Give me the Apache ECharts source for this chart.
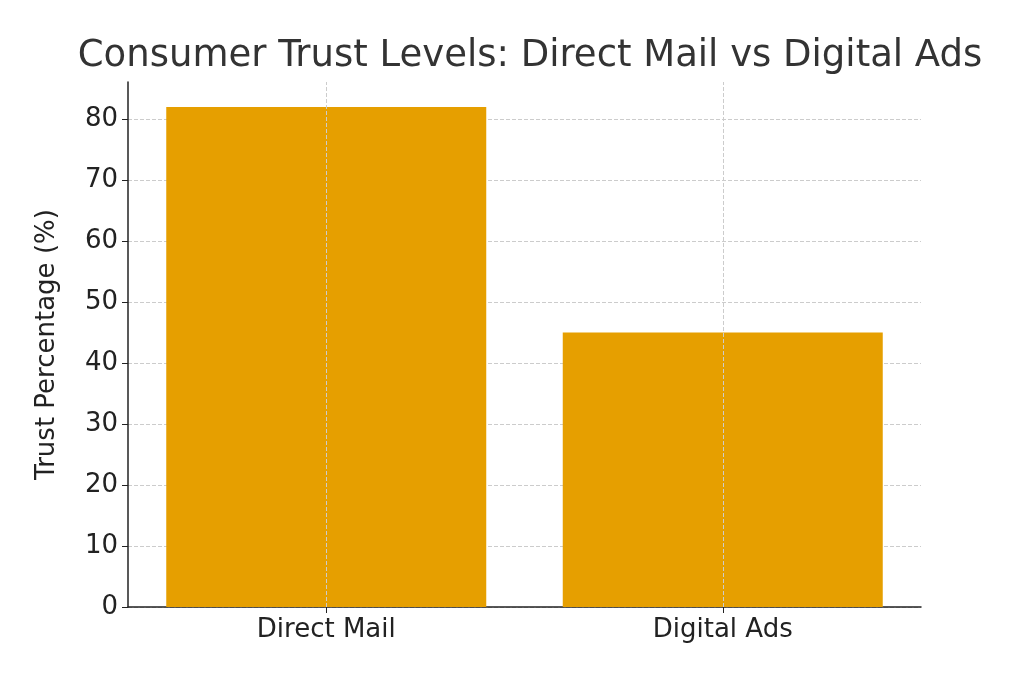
<!DOCTYPE html>
<html><head><meta charset="utf-8">
<script src="https://cdn.jsdelivr.net/npm/echarts@6/dist/echarts.min.js"></script>
<style>html,body{margin:0;padding:0;background:#fff}#c{width:1024px;height:683px}</style>
</head><body><div id="c"></div>
<script>
const categories = ['Direct Mail', 'Digital Ads'];
const trustValues = [82, 45];
const chart = echarts.init(document.getElementById('c'));
const font = 'DejaVu Sans';
chart.setOption({
  animation: false,
  backgroundColor: '#fff',
  title: { text: 'Consumer Trust Levels: Direct Mail vs Digital Ads', left: 525, top: 33, textAlign: 'center',
    textStyle: { fontFamily: font, fontSize: 37, fontWeight: 'normal', color: '#333' } },
  grid: { left: 128, right: 103, top: 82, bottom: 76 },
  xAxis: { type: 'category', data: categories,
    axisLine: { lineStyle: { color: '#222', width: 1.5 } },
    axisTick: { show: true, alignWithLabel: true, length: 6, lineStyle: { color: '#222' } },
    axisLabel: { fontFamily: font, fontSize: 26, color: '#222', margin: 10 },
    splitLine: { show: false } },
  yAxis: { type: 'value', min: 0, max: 86.1, interval: 10,
    name: 'Trust Percentage (%)', nameLocation: 'middle', nameGap: 68,
    nameTextStyle: { fontFamily: font, fontSize: 26, color: '#222' },
    axisLine: { show: true, lineStyle: { color: '#222', width: 1.5 } },
    axisTick: { show: true, length: 6, lineStyle: { color: '#222' } },
    axisLabel: { fontFamily: font, fontSize: 26, color: '#222', showMaxLabel: false, margin: 10 },
    splitLine: { show: true, showMaxLine: false, lineStyle: { color: '#ccc', type: 'dashed' } } },
  series: [{ type: 'bar', data: trustValues, barWidth: 320, z: 2,
    itemStyle: { color: '#E69F00' },
    markLine: { silent: true, symbol: 'none', label: { show: false }, z: 3,
      lineStyle: { color: '#ccc', type: 'dashed', width: 1 },
      data: categories.map(c => ({ xAxis: c })) } }]
});
</script></body></html>
